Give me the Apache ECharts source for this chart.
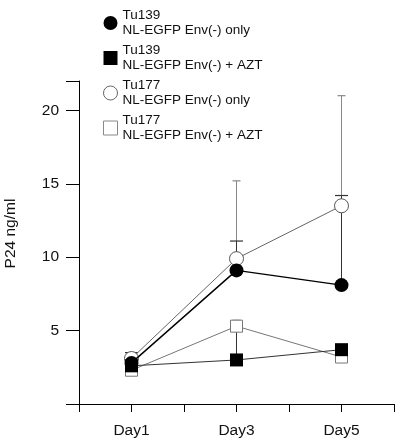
<!DOCTYPE html>
<html>
<head>
<meta charset="utf-8">
<script src="https://cdn.jsdelivr.net/npm/echarts@6/dist/echarts.min.js"></script>
<style>
  html, body { margin: 0; padding: 0; background: #fff; }
  #myChart { width: 400px; height: 443px; }
</style>
</head>
<body>
<div id="myChart"></div>
<script>
// days on the x axis
const dayTicks = [1, 3, 5]
const dayNames = ['Day1', 'Day3', 'Day5']

const seriesNames = [
    'Tu139\nNL-EGFP Env(-) only',
    'Tu139\nNL-EGFP Env(-) + AZT',
    'Tu177\nNL-EGFP Env(-) only',
    'Tu177\nNL-EGFP Env(-) + AZT'
]

// P24 ng/ml, mean and top of the error bar (null = no bar)
const tu139Only = [2.8, 9.1, 8.1]
const tu139OnlyHi = [3.5, 11.1, 14.2]
const tu139Azt = [2.6, 3.0, 3.7]
const tu139AztHi = [null, 5.3, null]
const tu177Only = [3.1, 9.9, 13.5]
const tu177OnlyHi = [null, 15.2, 21.0]
const tu177Azt = [2.3, 5.3, 3.2]
const tu177AztHi = [null, 5.7, null]

const yTicks = [0, 5, 10, 15, 20]

function points(values) {
    return dayTicks.map((d, i) => [d, values[i]])
}

function errData(values, hi) {
    let out = []
    dayTicks.forEach((d, i) => {
        if (hi[i] != null) out.push([d, values[i], hi[i]])
    })
    return out
}

function errSeries(values, hi, color, capW) {
    return {
        type: 'custom',
        silent: true,
        z: 1,
        data: errData(values, hi),
        renderItem: function (params, api) {
            let lo = api.coord([api.value(0), api.value(1)])
            let up = api.coord([api.value(0), api.value(2)])
            let children = [{
                type: 'line',
                shape: { x1: lo[0], y1: lo[1], x2: up[0], y2: up[1] },
                style: { stroke: color, lineWidth: 1 }
            }]
            if (capW > 0) {
                children.push({
                    type: 'line',
                    shape: { x1: up[0] - capW / 2, y1: up[1], x2: up[0] + capW / 2, y2: up[1] },
                    style: { stroke: color, lineWidth: 1.2 }
                })
            }
            return { type: 'group', children: children }
        }
    }
}

let myChart = echarts.init(document.getElementById('myChart'))

myChart.setOption({
    backgroundColor: '#fff',
    animation: false,
    textStyle: { fontFamily: 'Liberation Sans, Arial, sans-serif' },
    grid: {
        left: 79,
        right: 6,
        top: 81,
        bottom: 39,
        containLabel: false,
        outerBoundsMode: 'none'
    },
    legend: {
        orient: 'vertical',
        left: 98,
        top: 3,
        itemWidth: 14,
        itemHeight: 14,
        itemGap: 5,
        selectedMode: false,
        textStyle: { fontSize: 13.5, lineHeight: 15, color: '#111' },
        data: [
            { name: seriesNames[0], icon: 'circle', itemStyle: { color: '#000', borderWidth: 0 } },
            { name: seriesNames[1], icon: 'rect', itemStyle: { color: '#000', borderWidth: 0 } },
            { name: seriesNames[2], icon: 'circle', itemStyle: { color: '#fff', borderColor: '#666', borderWidth: 1 } },
            { name: seriesNames[3], icon: 'rect', itemStyle: { color: '#fff', borderColor: '#888', borderWidth: 1 } }
        ]
    },
    xAxis: {
        type: 'value',
        min: 0,
        max: 6,
        interval: 1,
        splitLine: { show: false },
        axisLine: { lineStyle: { color: '#000', width: 1 } },
        axisTick: { length: 8, lineStyle: { color: '#000' } },
        axisLabel: {
            margin: 19,
            fontSize: 15.5,
            color: '#111',
            formatter: function (v) {
                let k = dayTicks.indexOf(v)
                return k >= 0 ? dayNames[k] : ''
            }
        }
    },
    yAxis: {
        type: 'value',
        min: 0,
        max: 22,
        interval: 5,
        name: 'P24 ng/ml',
        nameLocation: 'middle',
        nameGap: 60,
        nameTextStyle: { fontSize: 15.5, color: '#111', padding: [0, 0, 0, 18] },
        splitLine: { show: false },
        axisLine: { lineStyle: { color: '#000', width: 1 } },
        axisTick: { length: 13, lineStyle: { color: '#000' } },
        axisLabel: {
            margin: 20,
            fontSize: 15.5,
            color: '#111',
            formatter: function (v) {
                return (v === 0 || yTicks.indexOf(v) < 0) ? '' : v
            }
        }
    },
    series: [
        errSeries(tu177Only, tu177OnlyHi, '#888', 8),
        errSeries(tu177Azt, tu177AztHi, '#777', 8),
        errSeries(tu139Only, tu139OnlyHi, '#333', 13),
        errSeries(tu139Azt, tu139AztHi, '#333', 0),
        {
            name: seriesNames[2],
            type: 'line',
            z: 2,
            data: points(tu177Only),
            symbol: 'circle',
            symbolSize: 14,
            lineStyle: { color: '#666', width: 1 },
            itemStyle: { color: '#fff', borderColor: '#555', borderWidth: 1 }
        },
        {
            name: seriesNames[3],
            type: 'line',
            z: 2,
            data: points(tu177Azt),
            symbol: 'rect',
            symbolSize: 12,
            lineStyle: { color: '#777', width: 1 },
            itemStyle: { color: '#fff', borderColor: '#777', borderWidth: 1 }
        },
        {
            name: seriesNames[0],
            type: 'line',
            z: 3,
            data: points(tu139Only),
            symbol: 'circle',
            symbolSize: 14,
            lineStyle: { color: '#000', width: 1.4 },
            itemStyle: { color: '#000', borderWidth: 0 }
        },
        {
            name: seriesNames[1],
            type: 'line',
            z: 3,
            data: points(tu139Azt),
            symbol: 'rect',
            symbolSize: 13,
            lineStyle: { color: '#333', width: 1 },
            itemStyle: { color: '#000', borderWidth: 0 }
        }
    ]
})
</script>
</body>
</html>
